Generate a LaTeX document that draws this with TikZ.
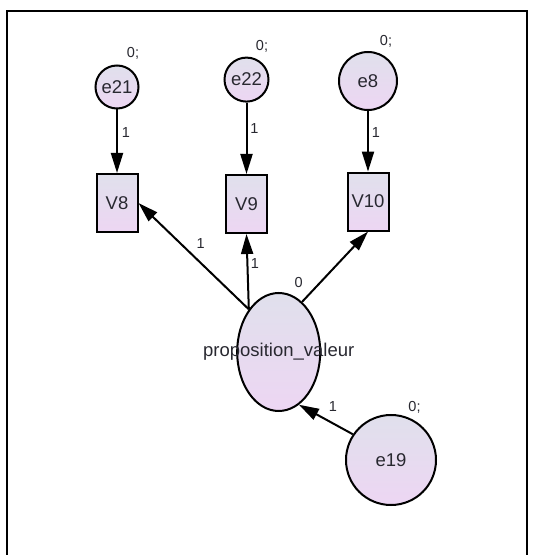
\documentclass[tikz,border=0pt]{standalone}
\usepackage{fontspec}
\setmainfont{Liberation Sans}
\usepackage{tikz}
\usetikzlibrary{arrows.meta,shapes.geometric}

\definecolor{semtop}{RGB}{224,224,236}
\definecolor{sembot}{RGB}{237,214,243}
\definecolor{semtext}{RGB}{40,40,48}

\tikzset{
  nodetext/.style={text=semtext, font=\fontsize{18.5}{18.5}\selectfont},
  semnode/.style={nodetext, draw, line width=2pt, inner sep=0pt, top color=semtop, bottom color=sembot},
  obsbox/.style={semnode, rectangle, minimum width=41pt, minimum height=58pt},
  errnode/.style={semnode, circle},
  latnode/.style={semnode, ellipse, minimum width=83pt, minimum height=118pt},
  coef/.style={inner sep=0pt, text=semtext, font=\fontsize{14.5}{14.5}\selectfont},
  semarrow/.style={-{Triangle[length=20pt,width=12pt]}, line width=2pt}
}

\begin{document}
\begin{tikzpicture}[x=1pt,y=1pt]
  \useasboundingbox (0,0) rectangle (533,555);
  % frame
  \draw[line width=1.8pt] (7,-5) -- (7,544) -- (527,544) -- (527,-5);

  % observed variables
  \node[obsbox] (v8) at (117,352) {V8};
  \node[obsbox] (v9) at (246.5,351) {V9};
  \node[obsbox] (v10) at (368,353.4) {V10};

  % error terms
  \node[errnode, minimum size=43pt] (e21) at (117,468) {e21};
  \node[errnode, minimum size=44pt] (e22) at (246.5,475.4) {e22};
  \node[errnode, minimum size=58pt] (e8) at (368,474) {e8};
  \node[errnode, minimum size=90pt] (e19) at (391,95) {e19};

  % latent variable (text kept outside the shape's size)
  \node[latnode, label={[nodetext, inner sep=0pt]center:proposition\_valeur}] (pv) at (278.7,203) {};

  % paths
  \draw[semarrow] (e21) -- (v8);
  \draw[semarrow] (e22) -- (v9);
  \draw[semarrow] (e8) -- (v10);
  \draw[semarrow] (pv.125.5) -- (v8.east);
  \draw[semarrow] (pv.125.5) -- (v9.south);
  \draw[semarrow] (pv.65.6) -- (v10.south);
  \draw[semarrow] (e19.146) -- (pv.-69);

  % estimates
  \node[coef] (m21) at (133,502) {0;};
  \node[coef] (m22) at (262,509) {0;};
  \node[coef] (m8) at (386,514) {0;};
  \node[coef] (m19) at (414.5,148) {0;};
  \node[coef] (w21) at (126,422) {1};
  \node[coef] (w22) at (254.4,426) {1};
  \node[coef] (w8) at (376,422) {1};
  \node[coef] (l8) at (200.7,311) {1};
  \node[coef] (l9) at (255,291.3) {1};
  \node[coef] (mpv) at (298.6,272) {0};
  \node[coef] (w19) at (333,148) {1};
\end{tikzpicture}
\end{document}
